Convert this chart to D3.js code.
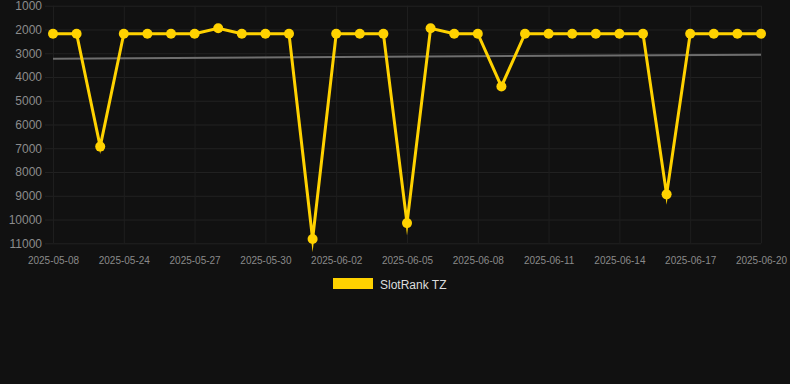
<!DOCTYPE html>
<html>
<head>
<meta charset="utf-8">
<script src="https://cdn.jsdelivr.net/npm/d3@7"></script>
<style>
  html, body { margin: 0; padding: 0; background: #111111; }
  svg { display: block; }
</style>
</head>
<body>
<svg id="chart" width="790" height="384"></svg>
<script>
const dates = ["2025-05-08","2025-05-22","2025-05-23","2025-05-24","2025-05-25","2025-05-26","2025-05-27","2025-05-28","2025-05-29","2025-05-30","2025-05-31","2025-06-01","2025-06-02","2025-06-03","2025-06-04","2025-06-05","2025-06-06","2025-06-07","2025-06-08","2025-06-09","2025-06-10","2025-06-11","2025-06-12","2025-06-13","2025-06-14","2025-06-15","2025-06-16","2025-06-17","2025-06-18","2025-06-19","2025-06-20"];
const ranks = [2180,2180,6930,2180,2180,2180,2180,1950,2180,2180,2180,10820,2180,2180,2180,10150,1950,2180,2180,4400,2180,2180,2180,2180,2180,2180,8940,2180,2180,2180,2180];
const trendValues = [3230, 3060];
const yTicks = [1000,2000,3000,4000,5000,6000,7000,8000,9000,10000,11000];
const seriesName = "SlotRank TZ";

const svg = d3.select("#chart");
const W = 790;
const pLeft = 53, pRight = 761, pTop = 5.7, pBottom = 243.3;

const x = d3.scalePoint().domain(dates).range([pLeft, pRight]);
const y = d3.scaleLinear().domain([1000, 11000]).range([pTop, pBottom]);

svg.append("rect").attr("width", W).attr("height", 384).attr("fill", "#111111");

// horizontal grid
const yAxis = d3.axisLeft(y).tickValues(yTicks).tickSize(-(pRight - pLeft + 8)).tickPadding(3).tickFormat(d3.format("d"));
const gy = svg.append("g").attr("transform", `translate(${pLeft - 8},0)`).call(yAxis);
gy.select(".domain").remove();
gy.selectAll(".tick line").attr("stroke", "#222222").attr("stroke-width", 1);
gy.selectAll(".tick text").attr("fill", "#8c8c8c").attr("font-family", "Liberation Sans, Arial, sans-serif").attr("font-size", 12);

// vertical grid + x labels
const xTickVals = dates.filter((d, i) => i % 3 === 0);
const xAxis = d3.axisBottom(x).tickValues(xTickVals).tickSize(-(pBottom - pTop)).tickPadding(12);
const gx = svg.append("g").attr("transform", `translate(0,${pBottom + 7})`).call(xAxis);
gx.select(".domain").remove();
gx.selectAll(".tick line").attr("stroke", "#1e1e1e").attr("stroke-width", 1).attr("y1", -7).attr("y2", -(pBottom - pTop + 7));
gx.selectAll(".tick text").attr("fill", "#8a8a8a").attr("font-family", "Liberation Sans, Arial, sans-serif").attr("font-size", 10).attr("dy", "0.2em");

// trend line
svg.append("line")
  .attr("x1", x(dates[0])).attr("x2", x(dates[dates.length - 1]))
  .attr("y1", y(trendValues[0])).attr("y2", y(trendValues[1]))
  .attr("stroke", "#6e6e6e").attr("stroke-width", 2);

// series line
const line = d3.line().x((d, i) => x(dates[i])).y(d => y(d));
svg.append("path").datum(ranks)
  .attr("d", line)
  .attr("fill", "none")
  .attr("stroke", "#ffd200")
  .attr("stroke-width", 3)
  .attr("stroke-linejoin", "miter")
  .attr("stroke-miterlimit", 10);

svg.append("g").selectAll("circle").data(ranks).join("circle")
  .attr("cx", (d, i) => x(dates[i]))
  .attr("cy", d => y(d))
  .attr("r", 5)
  .attr("fill", "#ffd200");

// legend
const lg = svg.append("g");
lg.append("rect").attr("x", 333).attr("y", 278).attr("width", 40).attr("height", 11).attr("fill", "#ffd200");
lg.append("text").attr("x", 380).attr("y", 288.5).text(seriesName)
  .attr("fill", "#dddddd").attr("font-family", "Liberation Sans, Arial, sans-serif").attr("font-size", 12);
</script>
</body>
</html>
